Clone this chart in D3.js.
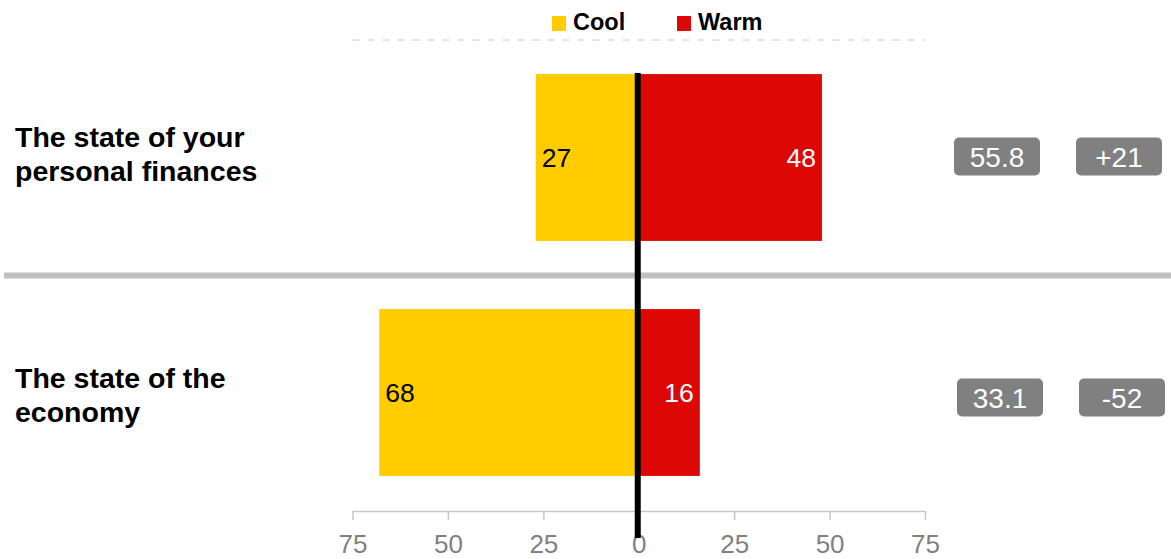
<!DOCTYPE html>
<html>
<head>
<meta charset="utf-8">
<script src="https://cdn.jsdelivr.net/npm/d3@7"></script>
<style>
  body { margin: 0; background: #fff; }
  text { font-family: "Liberation Sans", Arial, sans-serif; }
</style>
</head>
<body>
<svg id="chart" width="1171" height="559"></svg>
<script>
  //Chart values.
    const categories = [['The state of your', 'personal finances'], ['The state of the', 'economy']];
    const cool = [27, 68];
    const warm = [48, 16];
    const scores = ['55.8', '33.1'];
    const nets = ['+21', '-52'];
    const ticks = [-75, -50, -25, 0, 25, 50, 75];
    const legend = [{key: 'Cool', color: '#FFCC00'}, {key: 'Warm', color: '#DD0805'}];

    const svg = d3.select('#chart');
    const keys = categories.map(c => c.join(' '));

    const x = d3.scaleLinear().domain([-75, 75]).range([352.5, 925]);
    const y = d3.scaleBand().domain(keys).range([40, 510]).paddingInner(0.29).paddingOuter(0.145);

  //Top dashed line and row separator.
    svg.append('line')
        .attr('x1', x(-75)).attr('x2', x(75)).attr('y1', 40).attr('y2', 40)
        .style('stroke', '#c8c8c8').style('stroke-width', 1).style('stroke-dasharray', '7,8');
    svg.append('line')
        .attr('x1', 4).attr('x2', 1171)
        .attr('y1', (y(keys[0]) + y.bandwidth() + y(keys[1])) / 2 + 0.5)
        .attr('y2', (y(keys[0]) + y.bandwidth() + y(keys[1])) / 2 + 0.5)
        .style('stroke', '#c0c0c0').style('stroke-width', 6);

  //Legend.
    const lg = svg.append('g').selectAll('g').data(legend).join('g')
        .attr('transform', (d, i) => `translate(${552 + i * 125},16)`);
    lg.append('rect').attr('width', 14).attr('height', 15).attr('fill', d => d.color);
    lg.append('text').attr('x', 21).attr('y', 14)
        .style('font-size', '23.5px').style('font-weight', 'bold').text(d => d.key);

  //Axis.
    const axis = svg.append('g').attr('transform', 'translate(0,511)')
        .call(d3.axisBottom(x).tickValues(ticks).tickSize(9).tickSizeOuter(0).tickFormat(d => Math.abs(d)));
    axis.select('.domain').attr('stroke', '#c8c8c8').attr('stroke-width', 1.5);
    axis.selectAll('.tick line').attr('stroke', '#c8c8c8').attr('stroke-width', 1.5).attr('y1', 0);
    axis.selectAll('.tick text').attr('fill', '#808080').attr('dy', 0).attr('y', 42)
        .style('font-size', '26px').style('font-family', '"Liberation Sans", Arial, sans-serif');

  //Bars.
    const rows = svg.append('g').selectAll('g').data(keys).join('g');
    rows.append('rect')
        .attr('x', (d, i) => x(-cool[i])).attr('y', d => y(d))
        .attr('width', (d, i) => x(0) - x(-cool[i])).attr('height', y.bandwidth())
        .attr('fill', legend[0].color);
    rows.append('rect')
        .attr('x', x(0)).attr('y', d => y(d))
        .attr('width', (d, i) => x(warm[i]) - x(0)).attr('height', y.bandwidth())
        .attr('fill', legend[1].color);
    rows.append('text')
        .attr('x', (d, i) => x(-cool[i]) + 6).attr('y', d => y(d) + y.bandwidth() / 2 + 9.5)
        .style('font-size', '26.5px').attr('fill', '#000').text((d, i) => cool[i]);
    rows.append('text')
        .attr('x', (d, i) => x(warm[i]) - 6).attr('y', d => y(d) + y.bandwidth() / 2 + 9.5)
        .attr('text-anchor', 'end')
        .style('font-size', '26.5px').attr('fill', '#fff').text((d, i) => warm[i]);

  //Zero line.
    svg.append('line')
        .attr('x1', x(0) - 1).attr('x2', x(0) - 1).attr('y1', 73).attr('y2', 538)
        .style('stroke', '#000').style('stroke-width', 6);

  //Category labels.
    rows.append('text')
        .attr('x', 15).attr('y', (d, i) => y(d) + y.bandwidth() / 2 + (i ? -4.5 : -10.5))
        .style('font-size', '28.5px').style('font-weight', 'bold')
        .selectAll('tspan').data((d, i) => categories[i]).join('tspan')
        .attr('x', 15).attr('dy', (d, i) => i ? 34 : 0).text(d => d);

  //Score badges.
    [scores, nets].forEach((vals, j) => {
        const b = rows.append('g')
            .attr('transform', (d, i) => `translate(${(j ? 1119 : 997) + i * 3},${y(d) + y.bandwidth() / 2 + (i ? 5 : -1)})`);
        b.append('rect')
            .attr('x', -43).attr('y', -19).attr('width', 86).attr('height', 38)
            .attr('rx', 5).attr('fill', '#808080');
        b.append('text')
            .attr('text-anchor', 'middle').attr('y', 10)
            .style('font-size', '28px').attr('fill', '#fff').text((d, i) => vals[i]);
    });
</script>
</body>
</html>
